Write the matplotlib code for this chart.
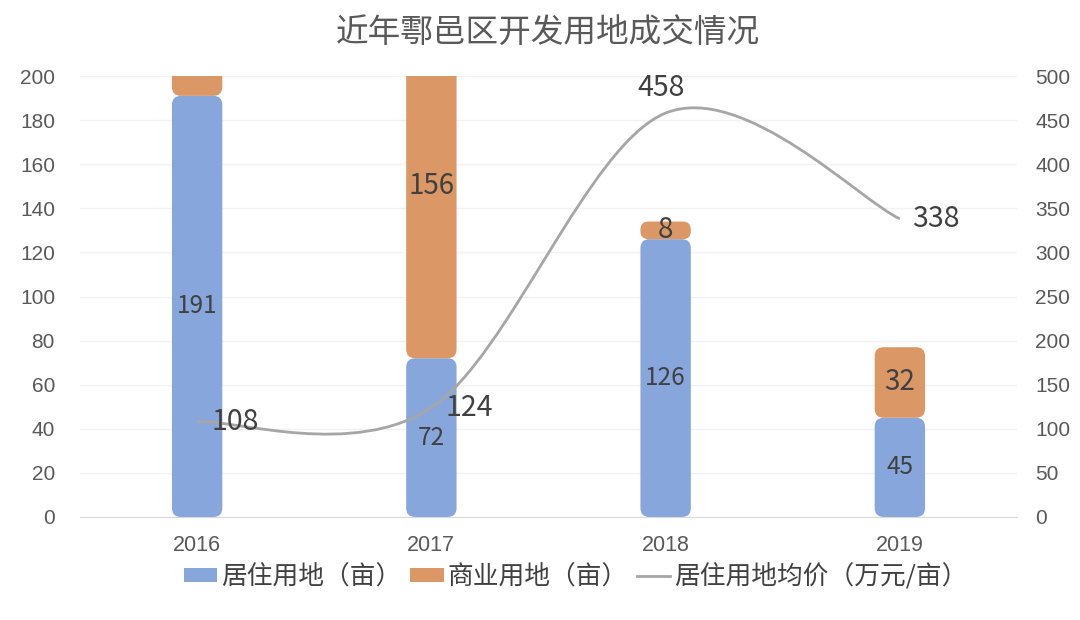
import matplotlib
matplotlib.use('Agg')
import matplotlib.pyplot as plt
from matplotlib.patches import FancyBboxPatch, Patch
from matplotlib.lines import Line2D
from matplotlib.path import Path
from matplotlib.patches import PathPatch
import numpy as np

plt.rcParams['font.family'] = ['Noto Sans CJK SC', 'DejaVu Sans']

years = ['2016', '2017', '2018', '2019']
residential = [191, 72, 126, 45]      # 居住用地（亩）
commercial = [30, 156, 8, 32]         # 商业用地（亩）, 2016 value is hidden above the axis
avg_price = [108, 124, 458, 338]      # 居住用地均价（万元/亩）

blue = '#87A6DB'
orange = '#DC9767'
gray_line = '#A6A6A6'
tick_color = '#595959'
label_color = '#404040'

fig = plt.figure(figsize=(10.8, 6.2), dpi=100)
ax = fig.add_axes([80/1080, 1-517/620, 937/1080, 441/620])
ax2 = ax.twinx()

x = np.arange(len(years))
width = 0.215

ax.set_xlim(-0.5, 3.5)
ax.set_ylim(0, 200)
ax2.set_ylim(0, 500)

# px per data unit, used to keep the rounded corners circular
px_x = 937 / 4.0
px_y = 441 / 200.0
radius_px = 9
r = radius_px / px_x
aspect = px_x / px_y

bars1 = ax.bar(x, residential, width, color=blue)
bars2 = ax.bar(x, commercial, width, bottom=residential, color=orange)

for bars in (bars1, bars2):
    for rect in bars:
        bx, by = rect.get_x(), rect.get_y()
        bw, bh = rect.get_width(), rect.get_height()
        rect.remove()
        rr = min(r, bh * px_y / px_x / 2.0 * 0.9)
        p = FancyBboxPatch((bx, by), bw, bh,
                           boxstyle='round,pad=0,rounding_size=%f' % rr,
                           mutation_aspect=aspect, linewidth=0,
                           facecolor=rect.get_facecolor(), zorder=2)
        ax.add_patch(p)

# bar labels
for i in range(len(years)):
    yc = residential[i] / 2.0
    ax.text(x[i], yc, str(residential[i]), ha='center', va='center',
            fontsize=17.5, color=label_color, zorder=5)
    yc2 = residential[i] + commercial[i] / 2.0
    if yc2 < 200:
        ax.text(x[i], yc2, str(commercial[i]), ha='center', va='center',
                fontsize=20, color=label_color, zorder=5)

# smooth line (Excel-style bezier through the points)
pts = np.column_stack([x.astype(float), np.array(avg_price, dtype=float)])
verts = [pts[0]]
codes = [Path.MOVETO]
n = len(pts)
for i in range(n - 1):
    p0 = pts[i - 1] if i > 0 else pts[i]
    p1 = pts[i]
    p2 = pts[i + 1]
    p3 = pts[i + 2] if i + 2 < n else pts[i + 1]
    c1 = p1 + (p2 - p0) / 6.0
    c2 = p2 - (p3 - p1) / 6.0
    verts += [c1, c2, p2]
    codes += [Path.CURVE4] * 3
ax2.add_patch(PathPatch(Path(verts, codes), facecolor='none',
                        edgecolor=gray_line, linewidth=2, zorder=4))

offsets = [(14, 0, 'left', 'center'), (14, 0, 'left', 'center'),
           (-5, 10, 'center', 'bottom'), (12, 0, 'left', 'center')]
for i, v in enumerate(avg_price):
    dx, dy, ha, va = offsets[i]
    ax2.annotate(str(v), (x[i], v), xytext=(dx, dy), textcoords='offset pixels',
                 ha=ha, va=va, fontsize=20.5, color=label_color, zorder=6)

# axes styling
ax.set_yticks(np.arange(0, 201, 20))
ax2.set_yticks(np.arange(0, 501, 50))
ax.set_xticks(x)
ax.set_xticklabels(years)
ax.yaxis.grid(True, color='#F2F2F2', linewidth=1)
ax.set_axisbelow(True)
for a in (ax, ax2):
    for s in a.spines.values():
        s.set_visible(False)
ax.spines['bottom'].set_visible(True)
ax.spines['bottom'].set_color('#D9D9D9')
ax.tick_params(axis='y', length=0, colors=tick_color, labelsize=15, pad=18)
ax.tick_params(axis='x', length=0, colors=tick_color, labelsize=15.5, pad=13)
ax2.tick_params(axis='y', length=0, colors=tick_color, labelsize=15, pad=13)
for lab in ax.get_yticklabels() + ax2.get_yticklabels() + ax.get_xticklabels():
    lab.set_fontfamily(['Liberation Sans', 'DejaVu Sans'])

fig.text(0.507, 1 - 33/620, '近年鄠邑区开发用地成交情况', ha='center', va='center',
         fontsize=23.5, color=tick_color)

handles = [Patch(facecolor=blue, label='居住用地（亩）'),
           Patch(facecolor=orange, label='商业用地（亩）'),
           Line2D([0], [0], color=gray_line, linewidth=2, label='居住用地均价（万元/亩）')]
fig.legend(handles=handles, loc='center', bbox_to_anchor=(0.533, 1 - 577/620),
           ncol=3, frameon=False, fontsize=18.5, handlelength=1.3, handleheight=0.45,
           handletextpad=0.15, columnspacing=0.35, labelcolor=label_color)

fig.savefig('out.png', dpi=100)
